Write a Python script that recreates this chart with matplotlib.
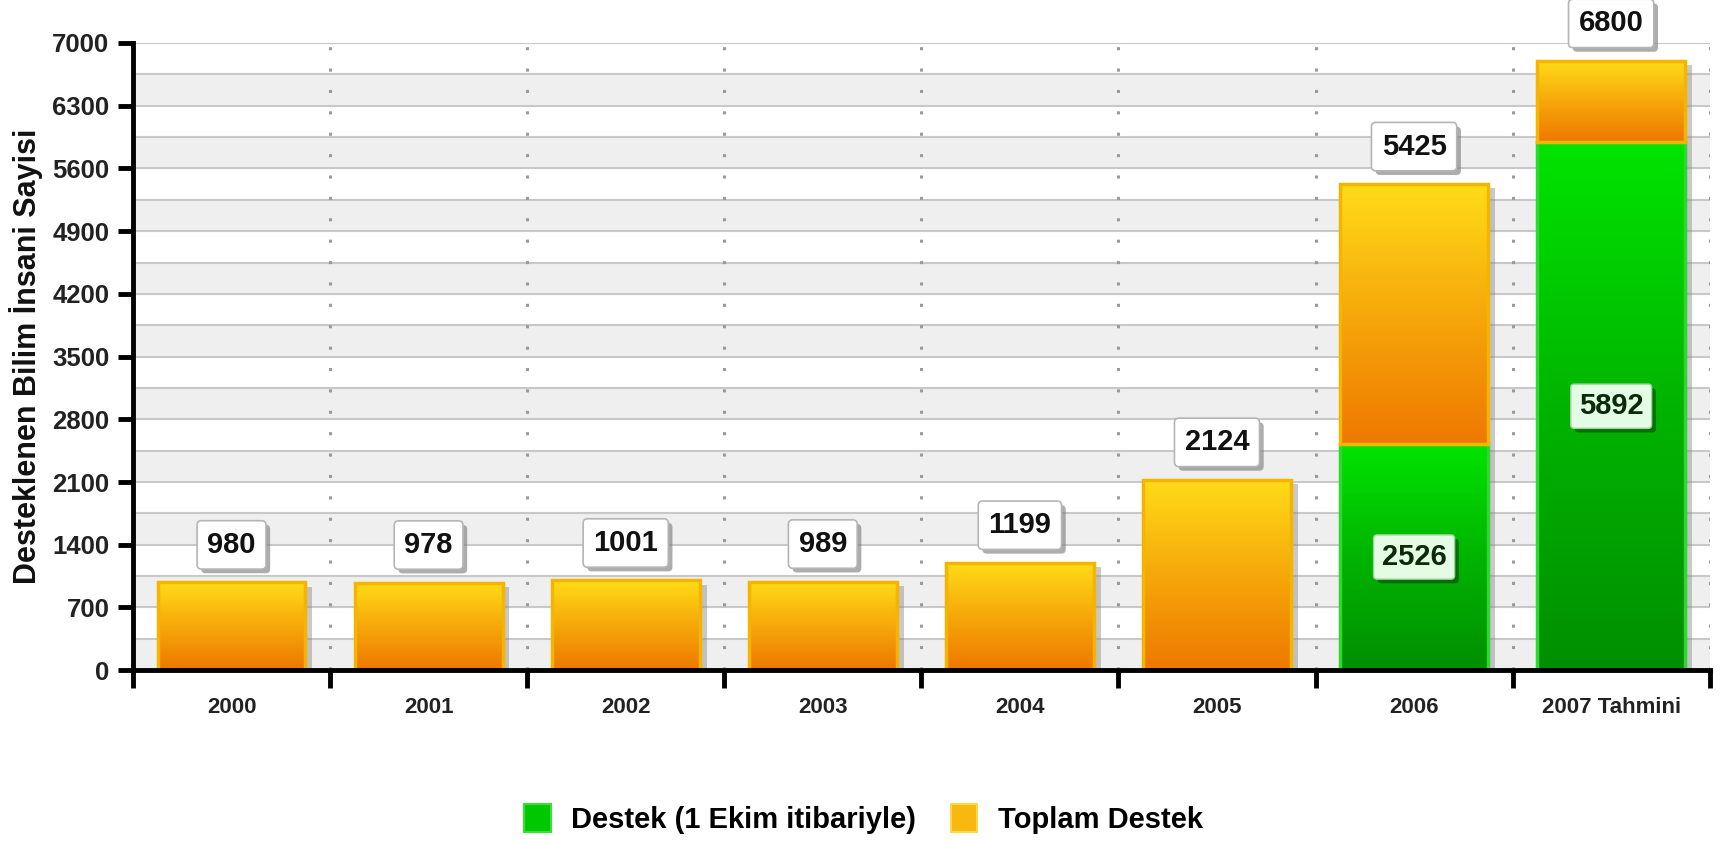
import matplotlib.pyplot as plt
import matplotlib.patheffects as pe
from matplotlib.colors import LinearSegmentedColormap
from matplotlib.patches import Patch
import numpy as np

plt.rcParams['font.family'] = ['Liberation Sans', 'DejaVu Sans']

# data
years = ['2000', '2001', '2002', '2003', '2004', '2005', '2006', '2007 Tahmini']
toplam = [980, 978, 1001, 989, 1199, 2124, 5425, 6800]
destek = [0, 0, 0, 0, 0, 0, 2526, 5892]
yticks = [0, 700, 1400, 2100, 2800, 3500, 4200, 4900, 5600, 6300, 7000]

orange_cm = LinearSegmentedColormap.from_list('org', ['#ee7800', '#f6a80a', '#ffdc18'])
green_cm = LinearSegmentedColormap.from_list('grn', ['#008f00', '#00b400', '#00e400'])

fig = plt.figure(figsize=(17.27, 8.43), dpi=100)
ax = fig.add_axes([0.077, 0.205, 0.913, 0.744])

x = np.arange(len(years))
toplam = np.array(toplam)
destek = np.array(destek)
ust = toplam - destek
w = 0.75

# background bands: lower half of each 700 step light gray
for y0 in yticks[:-1]:
    ax.axhspan(y0, y0 + 350, color='#efefef', zorder=0, lw=0)
for y0 in np.arange(0, 7001, 350):
    ax.axhline(y0, color='#c8c8c8', lw=1.5, zorder=0.5)
for xb in np.arange(-0.5, len(years), 1.0)[1:]:
    ax.plot([xb, xb], [0, 7000], color='#9a9a9a', lw=2.2,
            linestyle=(0, (1, 6)), zorder=0.6)

shadow = [pe.SimplePatchShadow(offset=(5, -3), shadow_rgbFace='#888888', alpha=0.45)]


def grad_bars(heights, bottoms, cmap, edge):
    sh = ax.bar(x, heights, w, bottom=bottoms, color='none', lw=0, zorder=1)
    for b in sh:
        b.set_path_effects(shadow)
    bars = ax.bar(x, heights, w, bottom=bottoms, color='none',
                  edgecolor=edge, lw=2.5, zorder=3)
    grad = np.linspace(0, 1, 256).reshape(-1, 1)
    for b, h in zip(bars, heights):
        if h <= 0:
            b.set_visible(False)
            continue
        x0, y0 = b.get_x(), b.get_y()
        im = ax.imshow(grad, extent=[x0, x0 + b.get_width(), y0, y0 + h],
                       origin='lower', aspect='auto', cmap=cmap, zorder=2)
        im.set_clip_path(b)
    return bars


grad_bars(destek, 0, green_cm, '#2ed82e')
grad_bars(ust, destek, orange_cm, '#f4b400')

ax.set_xlim(-0.5, len(years) - 0.5)
ax.set_ylim(0, 7000)

box_sh = [pe.SimplePatchShadow(offset=(3, -3), shadow_rgbFace='#777777', alpha=0.6), pe.Normal()]
for i, t in enumerate(toplam):
    tx = ax.annotate(str(t), (x[i], t), xytext=(0, 27), textcoords='offset points',
                     ha='center', va='center', fontsize=21, fontweight='bold',
                     color='#111111', zorder=6, annotation_clip=False,
                     bbox=dict(boxstyle='round,pad=0.35,rounding_size=0.15',
                               fc='white', ec='#b5b5b5', lw=1.2))
    tx.get_bbox_patch().set_path_effects(box_sh)
for i, d in enumerate(destek):
    if d > 0:
        tx = ax.text(x[i], d / 2, str(d), ha='center', va='center', fontsize=21,
                     fontweight='bold', color='#0a2a0a', zorder=6,
                     bbox=dict(boxstyle='round,pad=0.28,rounding_size=0.12',
                               fc='#e4fbe4', ec='#9ccf9c', lw=1))
        tx.get_bbox_patch().set_path_effects(
            [pe.SimplePatchShadow(offset=(3, -3), shadow_rgbFace='#005500', alpha=0.7), pe.Normal()])

ax.set_yticks(yticks)
ax.set_yticklabels([str(v) for v in yticks], fontsize=18.5, fontweight='bold', color='#222222')
ax.set_xticks(np.arange(-0.5, len(years), 1.0))
ax.set_xticklabels([])
ax.set_xticks(x, minor=True)
ax.set_xticklabels(years, minor=True, fontsize=16, fontweight='bold', color='#222222')
ax.tick_params(axis='x', which='minor', length=0, pad=19)
ax.tick_params(axis='x', which='major', length=13, width=3.5, color='black', direction='out')
ax.tick_params(axis='y', length=11, width=3.5, color='black', direction='out', pad=6)

for s in ['top', 'right']:
    ax.spines[s].set_visible(False)
for s in ['left', 'bottom']:
    ax.spines[s].set_linewidth(3.5)
    ax.spines[s].set_zorder(5)

ax.set_ylabel('Desteklenen Bilim İnsani Sayisi', fontsize=22, fontweight='bold', color='#111111')
ax.yaxis.set_label_coords(-0.057, 0.5)

handles = [Patch(fc='#00c800', ec='#38e038', lw=1.5, label='Destek (1 Ekim itibariyle)'),
           Patch(fc='#f8b810', ec='#ffd84a', lw=1.5, label='Toplam Destek')]
fig.legend(handles=handles, loc='center', bbox_to_anchor=(0.5, 0.028), ncol=2,
           frameon=False, prop={'size': 21, 'weight': 'bold'},
           handlelength=0.9, handleheight=1.1, handletextpad=0.7, columnspacing=1.2)

fig.savefig('out.png', dpi=100)
